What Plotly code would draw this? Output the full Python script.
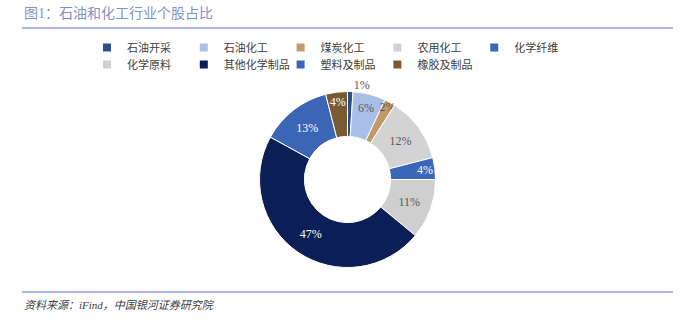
import plotly.graph_objects as go

categories = ["石油开采", "石油化工", "煤炭化工", "农用化工", "化学纤维",
              "化学原料", "其他化学制品", "塑料及制品", "橡胶及制品"]
shares = [1, 6, 2, 12, 4, 11, 47, 13, 4]
colors = ["#2E4D8C", "#A9BFE8", "#C09A68", "#D3D3D3", "#3A67B8",
          "#CFCFCF", "#0B1F56", "#3B66B5", "#7A5A32"]
text_colors = ["#595959", "#595959", "#595959", "#595959", "#FFFFFF",
               "#595959", "#FFFFFF", "#FFFFFF", "#FFFFFF"]
text_pos = ["outside", "inside", "inside", "inside", "inside",
            "inside", "inside", "inside", "inside"]
legend_rows = ["legend"] * 5 + ["legend2"] * 4

W, H = 681, 322
cx, cy, R = 347.5, 179.5, 88

FONT = "Liberation Serif, Noto Sans CJK SC, serif"

fig = go.Figure()
fig.add_trace(go.Pie(
    labels=categories,
    values=shares,
    sort=False,
    direction="clockwise",
    rotation=0,
    hole=0.49,
    marker=dict(colors=colors, line=dict(color="#FFFFFF", width=1)),
    texttemplate="%{value}%",
    textposition=text_pos,
    textfont=dict(color=text_colors, size=12, family=FONT),
    insidetextorientation="horizontal",
    hoverinfo="label+value",
    showlegend=False,
    domain=dict(x=[(cx - R) / W, (cx + R) / W],
                y=[(H - cy - R) / H, (H - cy + R) / H]),
))

# legend entries (one per category), split in two rows like the reference
for name, col, lg in zip(categories, colors, legend_rows):
    fig.add_trace(go.Scatter(
        x=[None], y=[None], mode="markers", name=name,
        marker=dict(symbol="square", size=8, color=col),
        legend=lg, hoverinfo="skip",
    ))

legend_common = dict(
    orientation="h",
    xanchor="left", yanchor="top",
    entrywidth=51.8, entrywidthmode="pixels",
    itemwidth=30,
    font=dict(size=11, color="#404040", family=FONT),
    bgcolor="rgba(0,0,0,0)",
    traceorder="normal",
)

fig.update_layout(
    width=W, height=H,
    margin=dict(l=0, r=0, t=0, b=0),
    paper_bgcolor="#FFFFFF",
    plot_bgcolor="#FFFFFF",
    font=dict(family=FONT, color="#404040", size=11),
    uniformtext=dict(minsize=12, mode="show"),
    xaxis=dict(visible=False),
    yaxis=dict(visible=False),
    legend=dict(x=87 / W, y=1 - 33 / H, **legend_common),
    legend2=dict(x=87 / W, y=1 - 50 / H, **legend_common),
    shapes=[
        dict(type="line", xref="paper", yref="paper",
             x0=22 / W, x1=673 / W, y0=1 - 28 / H, y1=1 - 28 / H,
             line=dict(color="#8EA2CF", width=1.5)),
        dict(type="line", xref="paper", yref="paper",
             x0=22 / W, x1=673 / W, y0=1 - 292 / H, y1=1 - 292 / H,
             line=dict(color="#8EA2CF", width=1.5)),
    ],
    annotations=[
        dict(text="图1：石油和化工行业个股占比", xref="paper", yref="paper",
             x=22 / W, y=1 - 14 / H, xanchor="left", yanchor="middle",
             showarrow=False, font=dict(size=14, color="#7F93C3", family=FONT)),
        dict(text="<i>资料来源：iFind，中国银河证券研究院</i>", xref="paper", yref="paper",
             x=22 / W, y=1 - 305 / H, xanchor="left", yanchor="middle",
             showarrow=False, font=dict(size=11, color="#404040", family=FONT)),
    ],
)

fig.write_html("out.html")
